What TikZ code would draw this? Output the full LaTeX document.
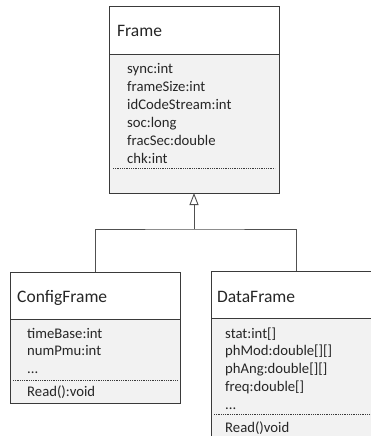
\documentclass[tikz,border=0pt]{standalone}
\usepackage{fontspec}
\setmainfont{Carlito}
\usetikzlibrary{arrows.meta}
\definecolor{bodygray}{HTML}{F2F2F2}
\definecolor{linegray}{HTML}{3A3A3A}
\definecolor{conngray}{HTML}{505050}
\definecolor{txt}{HTML}{262626}
\begin{document}
\begin{tikzpicture}[x=1pt,y=-1pt,
  hdr/.style={draw=linegray, line width=0.9pt, fill=white, minimum width=170pt, anchor=north west, inner sep=0pt, outer sep=0pt},
  bodybox/.style={draw=linegray, line width=0.9pt, fill=bodygray, minimum width=170pt, anchor=north west, inner sep=0pt, outer sep=0pt},
  title/.style={anchor=base west, inner sep=0pt, text=txt, font=\fontsize{17.5}{21}\selectfont},
  attr/.style={anchor=base west, inner sep=0pt, text=txt, font=\fontsize{14.7}{17.8}\selectfont},
  sep/.style={draw=linegray, line width=0.8pt, dash pattern=on 0.9pt off 0.9pt},
  conn/.style={draw=conngray, line width=0.9pt},
  inherit/.style={-{Triangle[open, length=12pt, width=9pt]}}
]
\useasboundingbox (0,0) rectangle (371,436);
\clip (0,0) rectangle (371,436);
\fill[white] (0,0) rectangle (371,436);

% Frame
\node[hdr, minimum height=48pt] (frameH) at (109,6) {};
\node[bodybox, minimum height=139pt] (frameB) at (109,54) {};
\node[title] (frameT) at (117,37) {Frame};
\node[attr] (f1) at (127,74) {sync:int};
\node[attr] (f2) at (127,91.8) {frameSize:int};
\node[attr] (f3) at (127,109.6) {idCodeStream:int};
\node[attr] (f4) at (127,127.4) {soc:long};
\node[attr] (f5) at (127,145.2) {fracSec:double};
\node[attr] (f6) at (127,163) {chk:int};
\draw[sep] (113,168) -- (275,168);

% ConfigFrame
\node[hdr, minimum height=47pt] (cfgH) at (10,272) {};
\node[bodybox, minimum height=84pt] (cfgB) at (10,319) {};
\node[title] (cfgT) at (17,302) {ConfigFrame};
\node[attr] (c1) at (27,338) {timeBase:int};
\node[attr] (c2) at (27,355.8) {numPmu:int};
\node[attr] (c3) at (27,373.6) {...};
\draw[sep] (13,380) -- (177,380);
\node[attr] (c4) at (27,396) {Read():void};

% DataFrame
\node[hdr, minimum height=47pt] (dataH) at (211,271) {};
\node[bodybox, minimum height=140pt] (dataB) at (211,318) {};
\node[title] (dataT) at (217,302) {DataFrame};
\node[attr] (d1) at (225,338) {stat:int[]};
\node[attr] (d2) at (225,355.8) {phMod:double[][]};
\node[attr] (d3) at (225,373.6) {phAng:double[][]};
\node[attr] (d4) at (225,391.4) {freq:double[]};
\node[attr] (d5) at (225,409.2) {...};
\draw[sep] (214,414) -- (378,414);
\node[attr] (d6) at (225,432) {Read()void};

% connectors
\coordinate (bus) at (frameB.south |- 0,229);
\draw[conn] (cfgH.north) |- (bus) -| (dataH.north);
\draw[conn, inherit] (bus) -- (frameB.south);
\end{tikzpicture}
\end{document}
